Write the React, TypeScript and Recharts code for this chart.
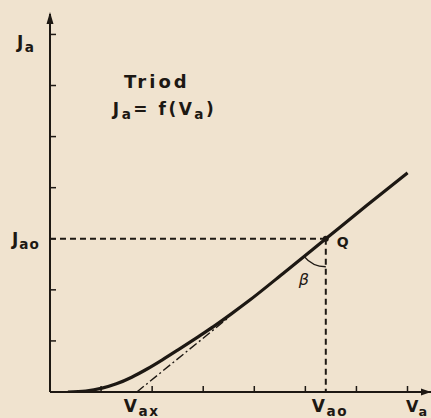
import React from "react";
import { LineChart, Line, XAxis, YAxis, ReferenceLine, ReferenceDot } from "recharts";

// anode characteristic, in tick units
const anodeVoltage = [0.35, 0.7, 1.0, 1.3, 1.6, 1.9, 2.2, 2.5, 2.9, 3.2, 3.55, 3.9, 4.6, 5.4, 6.2, 7.0];
const anodeCurrent = [0, 0.02, 0.07, 0.16, 0.29, 0.45, 0.63, 0.82, 1.08, 1.28, 1.53, 1.79, 2.35, 3.0, 3.65, 4.29];

// operating point Q and the tangent's foot on the voltage axis
const Vao = 5.4;
const Jao = 3.0;
const Vax = 1.7;
const tangentVoltage = [Vax, 3.5];
const tangentCurrent = [0, 1.46];

const xTicks = [1, 2, 3, 4, 5, 6, 7];
const yTicks = [1, 2, 3, 4, 5, 6, 7];
const X_MAX = 7.46;
const Y_MAX = 7.4;

const INK = "#1d1813";
const PAPER = "#f0e3cf";
const FONT = "'DejaVu Sans', sans-serif";

const curve = anodeVoltage.map((v, i) => ({ v, i: anodeCurrent[i] }));
const tangent = tangentVoltage.map((v, i) => ({ v, i: tangentCurrent[i] }));

type Part = { t: string; sub?: boolean };

// text placed relative to a reference point, subscripts dropped a bit
const label =
  (parts: Part[], dx: number, dy: number, size: number, extra: React.SVGProps<SVGTextElement> = {}) =>
  (p: any) => (
    <text
      x={p.cx + dx}
      y={p.cy + dy}
      fontFamily={FONT}
      fontWeight={700}
      fontSize={size}
      fill={INK}
      letterSpacing={1.5}
      {...extra}
    >
      {parts.map((part, k) => (
        <tspan
          key={k}
          fontSize={part.sub ? size * 0.8 : size}
          dy={part.sub ? size * 0.25 : k > 0 && parts[k - 1].sub ? -size * 0.25 : 0}
        >
          {part.t}
        </tspan>
      ))}
    </text>
  );

// short tick marks pointing into the plot
const xTick = (p: any) => <line x1={p.x} y1={p.y} x2={p.x} y2={p.y - 6} stroke={INK} strokeWidth={1.5} />;
const yTick = (p: any) => <line x1={p.x} y1={p.y} x2={p.x + 6} y2={p.y} stroke={INK} strokeWidth={1.5} />;

const upArrow = (p: any) => (
  <path d={`M${p.cx},${p.cy - 2} L${p.cx - 3.5},${p.cy + 10} L${p.cx + 3.5},${p.cy + 10} Z`} fill={INK} />
);

const rightArrow = (p: any) => (
  <path d={`M${p.cx},${p.cy} L${p.cx - 10},${p.cy - 3.5} L${p.cx - 10},${p.cy + 3.5} Z`} fill={INK} />
);

// angle beta between the tangent and the vertical through Q
const betaArc = (p: any) => {
  const r = 28;
  const ux = -0.777;
  const uy = 0.63;
  return (
    <g>
      <path
        d={`M${p.cx + ux * r},${p.cy + uy * r} A${r},${r} 0 0 0 ${p.cx},${p.cy + r}`}
        fill="none"
        stroke={INK}
        strokeWidth={1.4}
      />
      <circle cx={p.cx} cy={p.cy} r={3} fill={INK} />
    </g>
  );
};

export default function App() {
  return (
    <div style={{ position: "absolute", left: 0, top: 0, width: 431, height: 418, background: PAPER, overflow: "hidden" }}>
      <LineChart width={431} height={418} data={curve} margin={{ top: 14, right: 0, bottom: 25, left: 49 }}>
        <XAxis
          type="number"
          dataKey="v"
          domain={[0, X_MAX]}
          ticks={xTicks}
          height={1}
          tick={xTick}
          tickSize={0}
          tickMargin={0}
          tickLine={false}
          axisLine={{ stroke: INK, strokeWidth: 2 }}
          allowDataOverflow
        />
        <YAxis
          type="number"
          domain={[0, Y_MAX]}
          ticks={yTicks}
          width={1}
          tick={yTick}
          tickSize={0}
          tickMargin={0}
          tickLine={false}
          axisLine={{ stroke: INK, strokeWidth: 2 }}
          allowDataOverflow
        />
        <ReferenceLine segment={[{ x: 0, y: Jao }, { x: Vao, y: Jao }]} stroke={INK} strokeWidth={2} strokeDasharray="6 4" />
        <ReferenceLine segment={[{ x: Vao, y: Jao }, { x: Vao, y: 0 }]} stroke={INK} strokeWidth={2} strokeDasharray="6 4" />
        <Line
          data={tangent}
          dataKey="i"
          type="linear"
          stroke={INK}
          strokeWidth={1.4}
          strokeDasharray="9 3 2 3"
          dot={false}
          isAnimationActive={false}
        />
        <Line dataKey="i" type="monotone" stroke={INK} strokeWidth={3.2} dot={false} isAnimationActive={false} />
        <ReferenceDot x={Vao} y={Jao} r={0} ifOverflow="visible" shape={betaArc} />

        <ReferenceDot x={0} y={Y_MAX} r={0} ifOverflow="visible" shape={upArrow} />
        <ReferenceDot x={X_MAX} y={0} r={0} ifOverflow="visible" shape={rightArrow} />

        <ReferenceDot x={0} y={Y_MAX} r={0} ifOverflow="visible" shape={label([{ t: "J" }, { t: "a", sub: true }], -33, 34, 17)} />
        <ReferenceDot x={0} y={Jao} r={0} ifOverflow="visible" shape={label([{ t: "J" }, { t: "ao", sub: true }], -38, 6, 17, { letterSpacing: 1 })} />
        <ReferenceDot x={Vax} y={0} r={0} ifOverflow="visible" shape={label([{ t: "V" }, { t: "ax", sub: true }], -13, 20, 17)} />
        <ReferenceDot x={Vao} y={0} r={0} ifOverflow="visible" shape={label([{ t: "V" }, { t: "ao", sub: true }], -14, 20, 17)} />
        <ReferenceDot x={X_MAX} y={0} r={0} ifOverflow="visible" shape={label([{ t: "V" }, { t: "a", sub: true }], -25, 20, 16, { letterSpacing: 0 })} />
        <ReferenceDot x={Vao} y={Jao} r={0} ifOverflow="visible" shape={label([{ t: "Q" }], 11, 8, 14)} />
        <ReferenceDot x={Vao} y={Jao} r={0} ifOverflow="visible" shape={label([{ t: "β" }], -27, 46, 16, { fontStyle: "italic", fontWeight: 400 })} />

        <ReferenceDot x={1.45} y={5.95} r={0} ifOverflow="visible" shape={label([{ t: "Triod" }], 0, 0, 18, { letterSpacing: 3 })} />
        <ReferenceDot x={1.23} y={5.42} r={0} ifOverflow="visible" shape={label([{ t: "J" }, { t: "a", sub: true }, { t: "= f(V" }, { t: "a", sub: true }, { t: ")" }], 0, 0, 17, { letterSpacing: 2.5 })} />
      </LineChart>
    </div>
  );
}
